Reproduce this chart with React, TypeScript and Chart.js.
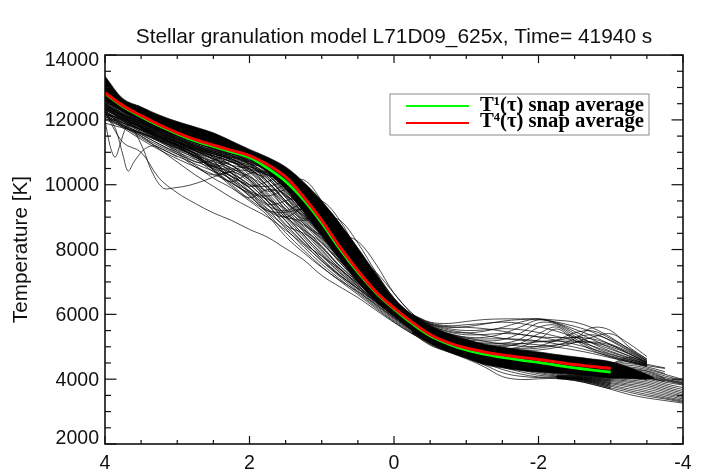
import React, { useEffect, useRef } from "react";
import { Chart, registerables } from "chart.js";

Chart.register(...registerables);

const titleText = "Stellar granulation model L71D09_625x, Time= 41940 s";
const yTitleText = "Temperature [K]";
const legendLabels = ["T¹(τ) snap average", "T⁴(τ) snap average"];

const xMajorTicks = [4, 2, 0, -2, -4];
const xMinorTicks = [3.5, 3, 2.5, 1.5, 1, 0.5, -0.5, -1, -1.5, -2.5, -3, -3.5];
const yMajorTicks = [2000, 4000, 6000, 8000, 10000, 12000, 14000];
const yMinorTicks = [2500, 3000, 3500, 4500, 5000, 5500, 6500, 7000, 7500, 8500, 9000, 9500, 10500, 11000, 11500, 12500, 13000, 13500];

const tauMain = [4, 3.75, 3.5, 3.25, 3, 2.75, 2.5, 2.25, 2, 1.75, 1.5, 1.25, 1, 0.75, 0.5, 0.25, 0, -0.25, -0.5, -0.75, -1, -1.25, -1.5, -1.75, -2, -2.25, -2.5, -2.75, -3];
const redAverage = [12840, 12440, 12130, 11850, 11600, 11390, 11220, 11060, 10900, 10620, 10240, 9620, 8900, 8080, 7350, 6700, 6200, 5760, 5380, 5130, 4960, 4840, 4750, 4680, 4610, 4530, 4450, 4390, 4330];
const greenAverage = [12810, 12410, 12100, 11820, 11570, 11350, 11180, 11010, 10840, 10510, 10100, 9530, 8820, 8020, 7300, 6670, 6170, 5720, 5340, 5090, 4900, 4770, 4670, 4590, 4520, 4430, 4350, 4280, 4220];

const tauDense = [4, 3.75, 3.5, 3.25, 3, 2.75, 2.5, 2.25, 2, 1.75, 1.5, 1.25, 1, 0.75, 0.5, 0.25, 0, -0.25, -0.5, -0.75, -1, -1.25, -1.5, -1.75, -2, -2.25, -2.5, -2.75, -3, -3.25, -3.5, -3.6];
const denseUpper = [13350, 12650, 12400, 12150, 11950, 11780, 11600, 11350, 11090, 10850, 10550, 10080, 9500, 8800, 8050, 7250, 6480, 5990, 5650, 5400, 5230, 5080, 4990, 4900, 4840, 4760, 4690, 4620, 4540, 4370, 4150, 4040];
const denseLower = [12600, 12250, 12000, 11720, 11480, 11280, 11120, 10960, 10780, 10380, 9850, 9150, 8430, 7700, 7000, 6400, 5950, 5500, 5100, 4850, 4650, 4450, 4350, 4270, 4220, 4180, 4140, 4080, 4030, 4030, 4010, 4025];

const tauFan = [4, 3.75, 3.5, 3.25, 3, 2.75, 2.5, 2.25, 2, 1.75, 1.5, 1.25, 1, 0.75, 0.5, 0.25, 0, -0.25, -0.5, -0.75, -1];
const fanLines = [
  [12250, 11300, 11000, 10200, 9750, 9420, 9130, 8900, 8620, 8380, 8030, 7680, 7200, 6850, 6520, 6130, 5750, 5400, 5120, 4900, 4700],
  [12300, 11800, 11500, 11100, 10700, 10300, 9950, 9600, 9300, 9000, 8600, 8150, 7650, 7200, 6800, 6380, 5950, 5550, 5220, 4980, 4790],
  [12200, 11900, 11650, 11350, 11000, 10600, 10200, 9900, 9500, 9050, 8400, 7900, 7450, 7050, 6700, 6300, 5900, 5500, 5200, 4950, 4760],
  [12400, 12000, 11700, 11400, 11150, 10850, 10500, 10150, 9650, 9150, 8700, 8200, 7800, 7400, 6950, 6480, 6000, 5580, 5260, 5020, 4830],
  [12350, 12000, 11750, 11500, 11200, 10900, 10600, 10250, 9900, 9400, 8750, 8500, 8100, 7500, 7000, 6550, 6080, 5650, 5320, 5060, 4860],
  [12450, 12100, 11750, 11450, 11250, 10950, 10450, 9950, 9600, 9850, 9700, 9100, 8400, 7700, 7150, 6650, 6150, 5700, 5340, 5070, 4870],
  [12500, 12150, 11850, 11550, 11300, 11050, 10750, 10100, 9700, 9200, 9000, 9250, 8900, 8100, 7350, 6750, 6200, 5750, 5380, 5100, 4900],
  [12400, 12050, 11800, 11550, 11300, 11100, 10850, 10450, 9900, 9400, 9500, 9700, 9300, 8400, 7500, 6850, 6250, 5780, 5400, 5120, 4910],
  [12550, 12200, 11900, 11650, 11400, 11150, 10900, 10600, 10200, 9800, 10000, 10150, 9500, 8600, 7700, 6950, 6300, 5800, 5420, 5140, 4930],
  [12300, 12050, 11800, 11500, 11250, 11050, 10800, 10500, 10250, 9900, 9350, 8950, 9100, 8750, 7950, 7100, 6350, 5820, 5430, 5150, 4940],
  [12450, 12100, 11800, 11500, 11200, 10850, 10550, 10700, 10400, 9950, 9450, 9050, 8650, 8250, 7900, 7200, 6400, 5850, 5450, 5160, 4950],
  [12150, 11850, 11600, 11350, 11100, 10800, 10400, 10100, 10350, 10350, 9800, 9200, 8700, 8200, 7600, 6950, 6300, 5830, 5440, 5150, 4940],
  [12500, 12100, 11750, 11400, 11050, 10700, 10750, 10950, 10650, 10100, 9500, 9000, 8500, 7900, 7300, 6750, 6200, 5750, 5380, 5110, 4920],
  [12250, 11950, 11700, 11450, 11250, 10950, 10600, 10850, 10750, 10450, 9900, 9300, 8700, 8050, 7450, 6850, 6250, 5780, 5400, 5120, 4920],
  [12550, 12250, 11950, 11650, 11350, 11050, 10800, 10600, 10500, 10300, 10050, 9550, 8950, 8200, 7500, 6900, 6300, 5800, 5420, 5130, 4930],
  [12100, 11900, 11700, 11500, 11300, 11100, 10900, 10700, 10550, 10250, 9650, 9450, 9400, 8800, 7900, 7100, 6400, 5850, 5460, 5170, 4960],
  [12350, 12150, 11900, 11650, 11400, 11200, 11000, 10750, 10600, 10300, 10100, 9700, 9100, 8500, 7800, 7050, 6350, 5850, 5450, 5170, 4950],
  [12600, 12300, 12000, 11700, 11450, 11200, 10950, 10700, 10450, 10400, 10200, 9800, 9200, 8600, 7950, 7250, 6500, 5950, 5540, 5240, 5020],
  [12500, 12150, 11950, 11700, 11450, 11250, 11050, 10850, 10650, 10350, 9950, 9400, 8850, 8200, 7550, 6950, 6380, 5900, 5500, 5210, 5000],
  [12650, 12300, 12000, 11750, 11500, 11300, 11100, 10950, 10750, 10500, 10100, 9550, 9000, 8350, 7700, 7050, 6450, 5950, 5520, 5230, 5010],
  [12300, 12100, 11850, 11600, 11350, 11150, 11000, 10850, 10700, 10450, 10050, 9550, 8950, 8250, 7650, 7000, 6400, 5910, 5510, 5220, 5010],
  [12150, 12050, 11900, 11700, 11500, 11300, 11100, 10950, 10800, 10550, 10150, 9650, 9050, 8350, 7600, 6980, 6380, 5920, 5530, 5240, 5030],
  [12700, 12350, 12000, 11700, 11400, 11150, 10950, 10800, 10650, 10500, 10300, 9900, 9350, 8700, 7850, 7100, 6480, 5980, 5580, 5280, 5060],
  [12500, 12200, 11950, 11650, 11400, 11200, 11000, 10800, 10450, 9950, 9350, 8700, 8100, 7450, 6900, 6400, 5980, 5580, 5260, 5020, 4840],
  [12400, 12150, 11900, 11600, 11300, 11050, 10850, 10600, 10150, 9500, 8900, 8300, 7700, 7200, 6800, 6370, 5930, 5530, 5220, 4990, 4800],
  [12200, 12000, 11800, 11550, 11300, 11100, 10950, 10750, 10300, 9700, 9050, 8450, 7850, 7300, 6850, 6400, 5960, 5560, 5240, 5000, 4810],
  [12600, 12250, 11950, 11700, 11500, 11300, 11100, 10900, 10600, 10100, 9500, 8900, 8300, 7650, 7050, 6550, 6050, 5620, 5300, 5040, 4850],
  [12450, 12150, 11850, 11600, 11350, 11150, 11000, 10800, 10500, 9950, 9200, 8600, 8000, 7400, 6950, 6450, 6000, 5600, 5280, 5030, 4840],
  [12550, 12300, 12000, 11750, 11500, 11300, 11150, 11000, 10700, 10250, 9650, 9050, 8450, 7800, 7200, 6650, 6120, 5680, 5330, 5060, 4870],
  [12350, 12150, 11950, 11700, 11450, 11250, 11050, 10900, 10650, 10200, 9600, 8950, 8350, 7700, 7100, 6600, 6100, 5660, 5310, 5060, 4860],
  [11900, 11750, 11600, 11400, 11200, 10950, 10650, 10350, 10000, 9500, 9000, 8600, 8200, 7600, 7000, 6500, 6020, 5600, 5290, 5040, 4850],
  [12050, 11800, 11550, 11250, 10950, 10550, 10300, 10400, 10150, 9600, 9100, 8750, 8350, 7850, 7250, 6700, 6150, 5700, 5340, 5070, 4880],
  [12620, 12230, 11900, 11620, 11380, 11180, 11000, 10840, 10650, 10300, 9800, 9250, 8700, 8050, 7350, 6750, 6180, 5720, 5350, 5100, 4910],
  [12580, 12180, 11850, 11550, 11320, 11120, 10950, 10780, 10500, 10050, 9450, 8800, 8200, 7650, 7100, 6550, 6050, 5640, 5310, 5050, 4860],
  [12520, 12130, 11800, 11500, 11250, 11050, 10880, 10700, 10380, 9850, 9250, 8650, 8050, 7500, 6980, 6480, 6020, 5620, 5290, 5040, 4850],
  [12460, 12070, 11750, 11450, 11180, 10980, 10800, 10600, 10250, 9750, 9150, 8550, 7950, 7400, 6900, 6420, 5970, 5580, 5270, 5020, 4830],
  [12400, 12020, 11680, 11380, 11120, 10900, 10720, 10520, 10150, 9650, 9050, 8450, 7880, 7350, 6860, 6390, 5940, 5550, 5240, 5000, 4820],
  [12340, 11960, 11620, 11320, 11060, 10840, 10650, 10450, 10080, 9580, 8980, 8380, 7800, 7280, 6800, 6340, 5900, 5520, 5220, 4990, 4810],
  [12280, 11900, 11560, 11260, 11000, 10780, 10580, 10360, 10000, 9480, 8880, 8280, 7720, 7220, 6760, 6300, 5870, 5490, 5200, 4970, 4790],
  [12230, 11850, 11500, 11200, 10940, 10720, 10500, 10280, 9900, 9380, 8780, 8200, 7640, 7160, 6710, 6260, 5840, 5460, 5180, 4960, 4780],
  [12180, 11800, 11450, 11140, 10880, 10640, 10420, 10180, 9780, 9250, 8650, 8080, 7550, 7090, 6660, 6220, 5800, 5440, 5160, 4940, 4770],
  [12130, 11750, 11400, 11080, 10800, 10550, 10320, 10060, 9650, 9120, 8520, 7980, 7470, 7030, 6610, 6180, 5770, 5410, 5140, 4920, 4750],
  [12700, 12300, 11950, 11650, 11420, 11220, 11050, 10900, 10720, 10450, 10000, 9450, 8850, 8150, 7450, 6820, 6240, 5770, 5390, 5120, 4930],
  [12660, 12270, 11930, 11630, 11400, 11200, 11030, 10880, 10700, 10420, 9950, 9350, 8750, 8000, 7300, 6720, 6170, 5710, 5350, 5090, 4900],
  [12720, 12320, 11970, 11680, 11440, 11240, 11070, 10920, 10740, 10350, 9750, 9100, 8500, 7800, 7200, 6650, 6130, 5690, 5330, 5080, 4890],
  [12480, 12120, 11830, 11580, 11340, 11130, 10960, 10790, 10570, 10180, 9620, 9000, 8400, 7720, 7130, 6600, 6100, 5670, 5320, 5070, 4880],
  [12360, 12040, 11770, 11520, 11280, 11080, 10900, 10720, 10480, 10100, 9500, 8850, 8250, 7600, 7050, 6550, 6070, 5650, 5310, 5060, 4870],
  [12420, 12060, 11760, 11490, 11230, 11020, 10780, 10380, 9800, 9350, 9200, 9450, 9500, 8900, 7950, 7150, 6400, 5870, 5470, 5180, 4970],
  [12260, 11980, 11720, 11470, 11210, 10970, 10620, 10150, 9800, 9650, 9850, 9900, 9400, 8500, 7600, 6850, 6220, 5760, 5390, 5110, 4910],
  [12510, 12170, 11880, 11590, 11320, 11100, 10850, 10350, 9950, 10100, 10250, 9850, 9000, 8150, 7350, 6700, 6120, 5680, 5320, 5070, 4890],
  [12190, 11920, 11680, 11440, 11200, 10980, 10700, 10250, 9750, 9250, 9000, 8900, 9000, 8900, 8200, 7300, 6500, 5930, 5520, 5220, 5010],
  [12320, 12020, 11760, 11500, 11230, 10930, 10480, 10050, 9750, 9550, 9250, 8800, 8450, 8450, 8250, 7550, 6650, 6030, 5600, 5280, 5060],
  [12240, 11960, 11700, 11430, 11160, 10880, 10550, 10480, 10550, 10300, 9700, 9100, 8600, 8100, 7700, 7300, 6650, 6020, 5580, 5270, 5050],
  [12090, 11830, 11600, 11380, 11150, 10900, 10550, 10250, 10000, 9950, 10050, 9650, 8950, 8150, 7400, 6780, 6180, 5730, 5370, 5100, 4910],
  [12010, 11780, 11570, 11350, 11130, 10860, 10450, 10000, 9550, 9200, 9150, 9250, 9000, 8300, 7500, 6850, 6240, 5780, 5400, 5130, 4930],
];

const tauWiggleA = [4, 3.93, 3.86, 3.79, 3.7, 3.6, 3.5, 3.25];
const wiggleA = [12000, 11200, 10850, 11250, 11800, 11900, 11800, 11500];
const tauWiggleB = [3.95, 3.85, 3.75, 3.68, 3.6, 3.47, 3.35, 3.25, 3];
const wiggleB = [12100, 11700, 10900, 10420, 10700, 11070, 11200, 11150, 10850];
const tauWiggleC = [3.6, 3.47, 3.35, 3.2, 3.05, 2.82, 2.6, 2.35, 2.1, 1.8];
const wiggleC = [11700, 11100, 10400, 9900, 9900, 9990, 10150, 10350, 10450, 10250];

const tauHump = [-0.25, -0.5, -0.75, -1, -1.25, -1.5, -1.75, -2, -2.25, -2.5, -2.75, -3, -3.25, -3.5];
const humpLines = [
  [6000, 5760, 5720, 5780, 5840, 5860, 5860, 5860, 5820, 5760, 5580, 5290, 4930, 4580],
  [5980, 5700, 5600, 5620, 5700, 5790, 5840, 5850, 5760, 5630, 5450, 5180, 4870, 4560],
  [5960, 5660, 5480, 5430, 5480, 5600, 5760, 5860, 5740, 5540, 5330, 5060, 4790, 4520],
  [5950, 5620, 5400, 5300, 5290, 5400, 5610, 5830, 5720, 5470, 5220, 4960, 4720, 4480],
  [5930, 5590, 5360, 5220, 5180, 5220, 5420, 5740, 5700, 5400, 5100, 4860, 4670, 4460],
  [5910, 5570, 5320, 5160, 5090, 5100, 5240, 5600, 5660, 5330, 5010, 4780, 4620, 4430],
  [5900, 5560, 5300, 5120, 5020, 5000, 5110, 5400, 5610, 5260, 4940, 4720, 4570, 4410],
  [5890, 5550, 5290, 5090, 4980, 4940, 5000, 5220, 5550, 5200, 4890, 4680, 4530, 4400],
  [5990, 5740, 5650, 5680, 5720, 5760, 5720, 5620, 5480, 5300, 5120, 4920, 4720, 4520],
  [5970, 5700, 5560, 5500, 5520, 5560, 5530, 5440, 5320, 5190, 5020, 4830, 4650, 4480],
  [5950, 5650, 5460, 5370, 5380, 5410, 5380, 5300, 5200, 5080, 4930, 4760, 4600, 4460],
  [5940, 5620, 5400, 5260, 5240, 5250, 5230, 5180, 5090, 4990, 4850, 4700, 4560, 4430],
  [5930, 5590, 5340, 5170, 5120, 5110, 5100, 5060, 4990, 4900, 4790, 4660, 4530, 4410],
  [5900, 5560, 5300, 5120, 5000, 4950, 4950, 5020, 5200, 5430, 5490, 5250, 4950, 4620],
  [5880, 5550, 5270, 5080, 4970, 4900, 4880, 4900, 4980, 5130, 5300, 5400, 5100, 4700],
  [5920, 5580, 5330, 5150, 5050, 5040, 5090, 5150, 5170, 5170, 5120, 5000, 4780, 4520],
  [5985, 5720, 5620, 5600, 5560, 5480, 5380, 5310, 5280, 5290, 5240, 5080, 4840, 4540],
  [5960, 5680, 5520, 5430, 5350, 5260, 5200, 5170, 5200, 5290, 5370, 5200, 4900, 4580],
  [5945, 5630, 5420, 5280, 5170, 5080, 5020, 5010, 5060, 5130, 5150, 5050, 4800, 4510],
  [5915, 5570, 5320, 5130, 5000, 4930, 4920, 4960, 5050, 5250, 5590, 5500, 5000, 4620],
];

const tauDip = [-0.25, -0.5, -0.75, -1, -1.25, -1.5, -1.75, -2, -2.25, -2.5, -2.75, -3];
const dipLines = [
  [5420, 5050, 4840, 4630, 4380, 4080, 3990, 4010, 4020, 3960, 3840, 3700],
  [5440, 5070, 4850, 4660, 4440, 4200, 4090, 4050, 4040, 3990, 3870, 3740],
  [5460, 5100, 4870, 4690, 4500, 4300, 4160, 4070, 4060, 4020, 3900, 3780],
  [5480, 5120, 4890, 4720, 4550, 4370, 4230, 4120, 4080, 4040, 3930, 3820],
  [5500, 5140, 4900, 4740, 4590, 4420, 4290, 4170, 4100, 4050, 3960, 3860],
  [5520, 5150, 4920, 4760, 4620, 4470, 4340, 4210, 4130, 4080, 3990, 3900],
  [5540, 5170, 4930, 4780, 4650, 4510, 4390, 4260, 4160, 4100, 4020, 3940],
  [5560, 5180, 4940, 4800, 4680, 4560, 4440, 4310, 4200, 4120, 4050, 3980],
];

const tauRight = [-2.5, -2.75, -3, -3.25, -3.5, -3.75, -4];
const rightFan = [
  [4650, 4570, 4490, 4670, 4500],
  [4640, 4560, 4480, 4600, 4460, 4350],
  [4630, 4540, 4460, 4540, 4420, 4330],
  [4610, 4520, 4440, 4480, 4380, 4230],
  [4590, 4500, 4420, 4430, 4340, 4170],
  [4570, 4480, 4400, 4380, 4300, 4150, 3990],
  [4540, 4450, 4370, 4340, 4260, 4100, 3960],
  [4500, 4410, 4340, 4300, 4240, 4050, 3930],
  [4450, 4370, 4310, 4270, 4200, 4030],
  [4410, 4340, 4280, 4250, 4160, 4010, 3900],
  [4370, 4300, 4250, 4220, 4120, 3990, 3880],
  [4330, 4270, 4220, 4180, 4080, 3970, 3860],
  [4290, 4240, 4190, 4150, 4050, 3950, 3840],
  [4250, 4200, 4160, 4120, 4030, 3930],
  [4220, 4170, 4130, 4090, 4010],
  [4180, 4140, 4100, 4060, 4000],
  [4140, 4110, 4070, 4040, 3990],
];

const tauWedge = [-2.25, -2.5, -2.75, -3, -3.25, -3.5, -3.75, -4];
const wedgeLines = [
  [4020, 3960, 3840, 3690, 3530, 3420, 3340, 3260],
  [4030, 3980, 3880, 3730, 3600, 3480, 3390, 3290],
  [4040, 4000, 3900, 3780, 3650, 3530, 3420, 3320],
  [4050, 4010, 3920, 3820, 3700, 3590, 3460, 3350],
  [4050, 4020, 3940, 3860, 3760, 3640, 3510, 3390],
  [4060, 4030, 3960, 3890, 3810, 3700, 3560, 3430],
  [4060, 4030, 3980, 3930, 3850, 3760, 3610, 3470],
  [4070, 4040, 4000, 3960, 3900, 3810, 3660, 3520],
  [4070, 4050, 4010, 3990, 3940, 3860, 3710, 3570],
  [4080, 4060, 4030, 4020, 3980, 3910, 3760, 3620],
  [4080, 4070, 4050, 4050, 4020, 3960, 3810, 3680],
  [4100, 4090, 4070, 4090, 4060, 4010, 3860, 3740],
  [4120, 4110, 4100, 4130, 4110, 4060, 3910, 3820],
];

const font = "'Liberation Sans', Arial, sans-serif";

const toPoints = (xs: number[], ys: number[]) => ys.map((y, i) => ({ x: xs[i], y }));

const thin = (xs: number[], ys: number[]) => ({
  data: toPoints(xs, ys),
  borderColor: "#000000",
  borderWidth: 0.7,
  pointRadius: 0,
  tension: 0.35,
  fill: false,
});

const frameAndLegend = {
  id: "frameAndLegend",
  afterDatasetsDraw(chart: any) {
    const { ctx, chartArea: a, scales } = chart;
    const xs = scales.x;
    const ys = scales.y;
    ctx.save();
    ctx.strokeStyle = "#111111";
    ctx.lineWidth = 1.6;
    ctx.strokeRect(a.left, a.top, a.right - a.left, a.bottom - a.top);
    ctx.lineWidth = 1.2;
    const seg = (x1: number, y1: number, x2: number, y2: number) => {
      ctx.beginPath();
      ctx.moveTo(x1, y1);
      ctx.lineTo(x2, y2);
      ctx.stroke();
    };
    const xTick = (values: number[], len: number) =>
      values.forEach((v) => {
        const p = xs.getPixelForValue(v);
        seg(p, a.bottom, p, a.bottom - len);
        seg(p, a.top, p, a.top + len);
      });
    const yTick = (values: number[], len: number) =>
      values.forEach((v) => {
        const p = ys.getPixelForValue(v);
        seg(a.left, p, a.left + len, p);
        seg(a.right, p, a.right - len, p);
      });
    xTick(xMajorTicks, 8);
    xTick(xMinorTicks, 4);
    yTick(yMajorTicks, 11.5);
    yTick(yMinorTicks, 6);

    // y tick labels: the end labels sit inside the axis range, as in the reference
    ctx.fillStyle = "#111111";
    ctx.font = `19.5px ${font}`;
    ctx.textAlign = "right";
    ctx.textBaseline = "middle";
    yMajorTicks.forEach((v) => {
      const p = ys.getPixelForValue(v);
      const shift = v === 14000 ? 6 : v === 2000 ? -5 : 1;
      ctx.fillText(String(v), a.left - 6, p + shift);
    });

    ctx.strokeStyle = "#8a8a8a";
    ctx.lineWidth = 1;
    ctx.strokeRect(390, 94, 259, 41);
    ctx.lineWidth = 2;
    ctx.strokeStyle = "#00ff00";
    seg(406, 106, 469, 106);
    ctx.strokeStyle = "#ff0000";
    seg(406, 123, 469, 123);
    ctx.fillStyle = "#000000";
    ctx.font = 'bold 20.7px "Liberation Serif"';
    ctx.textBaseline = "alphabetic";
    ctx.textAlign = "left";
    ctx.fillText(legendLabels[0], 480, 111, 164);
    ctx.fillText(legendLabels[1], 480, 127, 164);
    ctx.restore();
  },
};

export default function App() {
  const ref = useRef<HTMLCanvasElement | null>(null);
  useEffect(() => {
    document.body.style.margin = "0";
    const datasets: any[] = [
      {
        data: toPoints(tauMain, redAverage),
        borderColor: "#ff0000",
        borderWidth: 3,
        pointRadius: 0,
        tension: 0.35,
        fill: false,
        borderCapStyle: "butt",
      },
      {
        data: toPoints(tauMain, greenAverage),
        borderColor: "#00ff00",
        borderWidth: 2.8,
        pointRadius: 0,
        tension: 0.35,
        fill: false,
      },
      {
        data: toPoints(tauDense, denseUpper),
        borderColor: "#000000",
        borderWidth: 0.7,
        pointRadius: 0,
        tension: 0.35,
        fill: "+1",
        backgroundColor: "#000000",
      },
      thin(tauDense, denseLower),
      thin(tauWiggleA, wiggleA),
      thin(tauWiggleB, wiggleB),
      thin(tauWiggleC, wiggleC),
      ...fanLines.map((l) => thin(tauFan, l)),
      ...humpLines.map((l) => thin(tauHump, l)),
      ...dipLines.map((l) => thin(tauDip, l)),
      ...rightFan.map((l) => thin(tauRight, l)),
      ...wedgeLines.map((l) => thin(tauWedge, l)),
    ];
    const chart = new Chart(ref.current as HTMLCanvasElement, {
      type: "line",
      data: { datasets },
      options: {
        animation: false,
        responsive: false,
        devicePixelRatio: 1,
        layout: { padding: { left: 0, right: 26, top: 0, bottom: 0 } },
        plugins: {
          legend: { display: false },
          tooltip: { enabled: false },
          title: {
            display: true,
            text: titleText,
            fullSize: false,
            color: "#111111",
            font: { family: font, size: 20.9, weight: "normal" },
            padding: { top: 25, bottom: 5 },
          },
        },
        scales: {
          x: {
            type: "linear",
            reverse: true,
            min: -4,
            max: 4,
            grid: { display: false, drawTicks: false },
            border: { display: false },
            afterFit: (s: any) => {
              s.height = 28;
            },
            ticks: {
              stepSize: 2,
              autoSkip: false,
              maxRotation: 0,
              padding: 8,
              color: "#111111",
              font: { family: font, size: 19.5 },
              callback: (v: any) => String(v),
            },
          },
          y: {
            type: "linear",
            min: 2000,
            max: 14000,
            grid: { display: false, drawTicks: false },
            border: { display: false },
            afterFit: (s: any) => {
              s.width = 105;
            },
            title: {
              display: true,
              text: yTitleText,
              color: "#111111",
              font: { family: font, size: 20.7, weight: "normal" },
              padding: { top: 9, bottom: 0 },
            },
            ticks: {
              display: false,
              stepSize: 2000,
            },
          },
        },
      },
      plugins: [frameAndLegend],
    } as any);
    return () => chart.destroy();
  }, []);
  return (
    <div style={{ position: "absolute", left: 0, top: 0, width: 709, height: 472 }}>
      <canvas ref={ref} width={709} height={472} style={{ display: "block" }} />
    </div>
  );
}
